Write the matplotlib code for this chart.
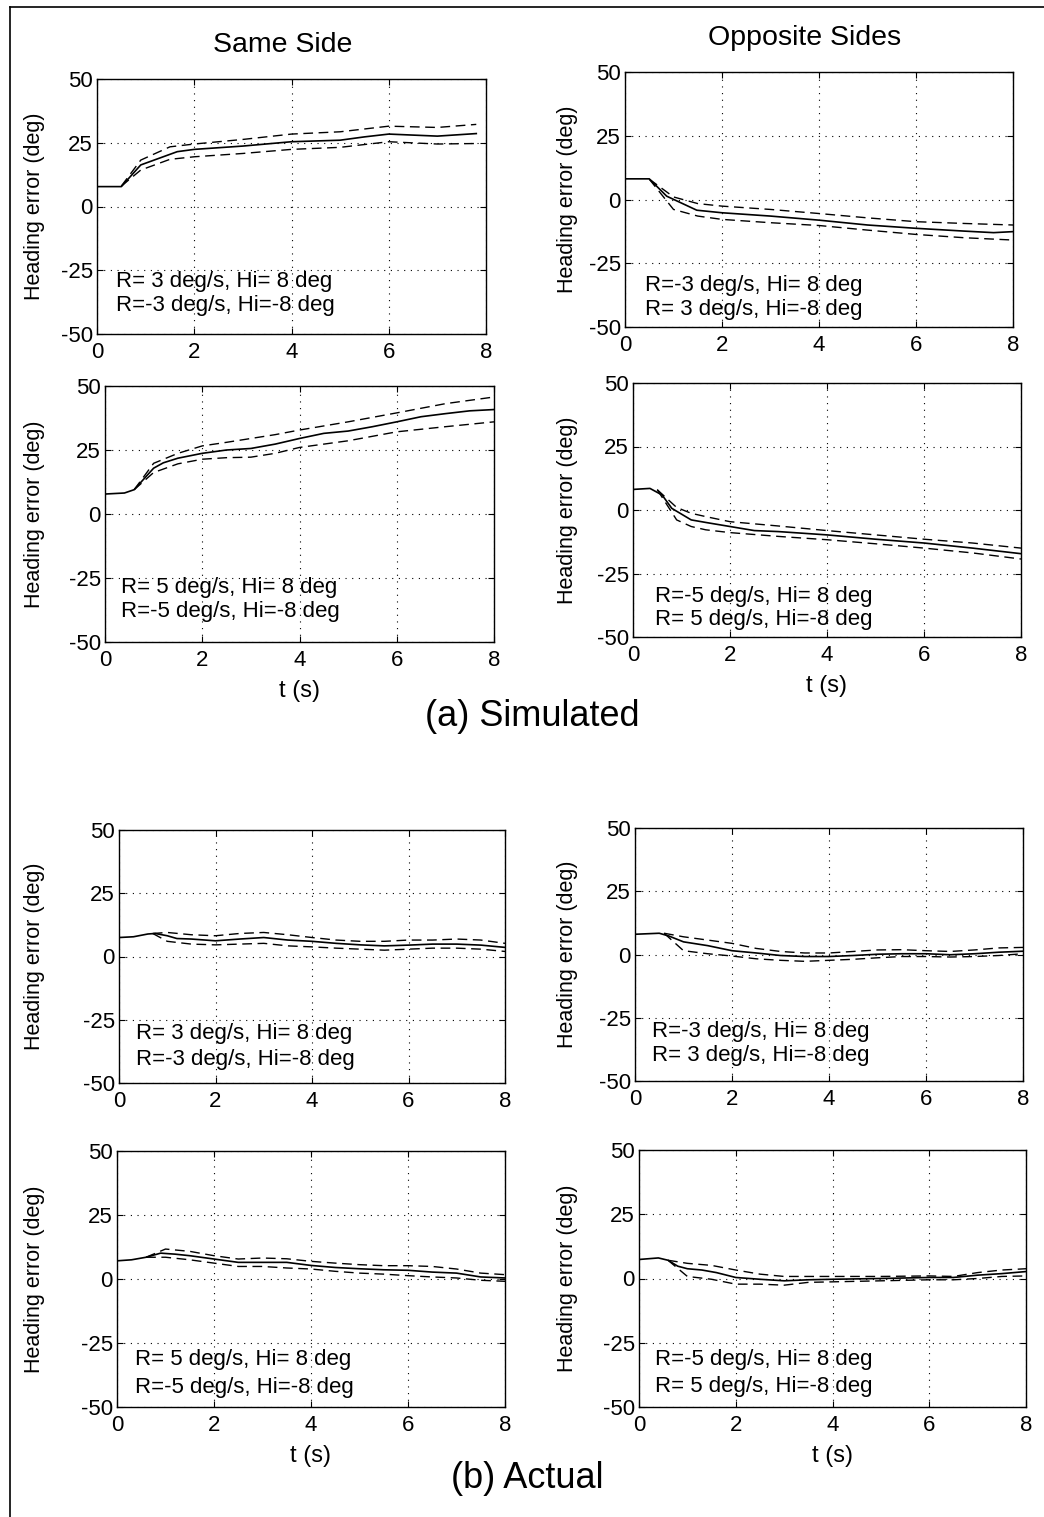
import matplotlib
matplotlib.use("Agg")
import matplotlib.pyplot as plt
from matplotlib.lines import Line2D

plt.rcParams['font.family'] = ['Liberation Sans', 'DejaVu Sans']
plt.rcParams['axes.unicode_minus'] = False

# ---- data (t in s, heading error in deg) ----
# (a) simulated, same side, R=+-3
sim3s_t = [0, 0.5, 0.9, 1.65, 2, 3, 4, 5, 5.5, 6, 6.5, 7, 7.8]
sim3s_mid = [7.8, 7.8, 16.3, 21.5, 22.4, 23.7, 25.4, 26.0, 27.3, 28.4, 28.0, 27.6, 28.6]
sim3s_dt = [0.5, 0.9, 1.5, 2, 3, 4, 5, 6, 7, 7.8]
sim3s_hi = [8.0, 18.2, 23.4, 24.5, 26.3, 28.4, 29.3, 31.5, 31.0, 32.2]
sim3s_lo = [8.0, 14.3, 18.5, 19.5, 20.8, 22.4, 23.2, 25.4, 24.5, 24.7]

# (a) simulated, opposite sides, R=-+3
sim3o_t = [0, 0.5, 0.86, 1.48, 2, 3, 4, 5, 6, 7, 7.6, 8]
sim3o_mid = [8.1, 8.1, 1.3, -4.2, -5.2, -6.5, -8.1, -10.0, -11.3, -12.4, -13.0, -12.6]
sim3o_dt = [0.5, 1, 1.5, 2, 3, 4, 5, 6, 7, 8]
sim3o_hi = [8.0, 1.0, -1.6, -2.6, -3.9, -5.5, -7.2, -8.7, -9.4, -10.0]
sim3o_lo = [8.0, -3.9, -6.5, -7.8, -9.1, -10.2, -12.0, -13.7, -15.0, -15.9]

# (a) simulated, same side, R=+-5
sim5s_t = [0, 0.4, 0.6, 1, 1.2, 1.5, 2, 2.5, 3, 3.5, 4, 4.5, 5, 5.5, 6, 6.5, 7, 7.5, 8]
sim5s_mid = [7.8, 8.2, 9.5, 17.9, 20.0, 21.8, 23.7, 25.0, 25.6, 27.3, 29.5, 31.5, 32.4,
             34.1, 36.0, 38.0, 39.2, 40.3, 40.8]
sim5s_dt = [0.6, 1, 1.5, 2, 2.5, 3, 3.5, 4, 5, 6, 7, 8]
sim5s_hi = [9.5, 19.8, 23.7, 26.6, 28.0, 29.5, 31.0, 32.8, 36.0, 39.5, 43.1, 45.7]
sim5s_lo = [9.5, 16.2, 19.6, 21.4, 22.0, 22.2, 23.7, 26.0, 28.6, 32.1, 34.1, 36.0]

# (a) simulated, opposite sides, R=-+5
sim5o_t = [0, 0.35, 0.6, 0.8, 1.2, 1.5, 2, 2.5, 3, 4, 5, 6, 7, 8]
sim5o_mid = [8.1, 8.5, 5.9, 0.65, -3.9, -4.9, -6.5, -8.1, -8.5, -9.8, -11.5, -13.0, -15.0, -17.2]
sim5o_dt = [0.5, 0.9, 1.2, 1.5, 2, 3, 4, 5, 6, 7, 8]
sim5o_hi = [8.0, 1.0, -1.3, -2.6, -4.6, -6.3, -8.1, -9.8, -11.5, -13.0, -15.0]
sim5o_lo = [8.0, -3.9, -6.5, -7.8, -8.9, -10.4, -11.7, -13.3, -15.0, -16.9, -19.3]

# (b) actual, same side, R=+-3
act3s_t = [0, 0.3, 0.6, 0.75, 1, 1.2, 1.5, 2, 2.5, 3, 3.5, 4, 4.5, 5, 5.5, 6, 6.5, 7, 7.5, 8]
act3s_mid = [7.5, 7.8, 8.9, 9.1, 8.2, 7.1, 6.9, 6.2, 6.9, 7.5, 6.5, 6.0, 5.2, 4.6, 4.2,
             4.5, 4.9, 4.9, 4.5, 3.6]
act3s_dt = [0.7, 1, 1.5, 2, 2.5, 3, 3.5, 4, 4.5, 5, 5.5, 6, 6.5, 7, 7.5, 8]
act3s_hi = [9.1, 9.5, 8.6, 8.2, 9.1, 9.5, 8.6, 7.5, 6.5, 6.0, 6.0, 6.5, 6.5, 6.9, 6.5, 5.2]
act3s_lo = [9.1, 6.0, 4.9, 4.6, 4.9, 5.2, 4.2, 3.8, 3.3, 2.9, 2.5, 2.9, 3.3, 3.3, 2.9, 2.0]

# (b) actual, opposite sides, R=-+3
act3o_t = [0, 0.5, 0.7, 1, 1.5, 2, 2.5, 3, 3.5, 4, 4.5, 5, 5.5, 6, 6.5, 7, 7.5, 8]
act3o_mid = [8.0, 8.4, 7.3, 5.0, 3.5, 1.5, 0.6, -0.4, -0.8, -0.8, -0.4, 0.1, 0.3, 0.3,
             -0.1, 0.3, 0.9, 1.3]
act3o_dt = [0.6, 1, 1.5, 2, 2.5, 3, 3.5, 4, 4.5, 5, 5.5, 6, 6.5, 7, 7.5, 8]
act3o_hi = [8.4, 7.0, 5.7, 4.4, 2.4, 1.2, 0.6, 0.6, 1.2, 1.8, 1.9, 1.5, 1.2, 1.8, 2.6, 2.8]
act3o_lo = [8.4, 1.5, 0.3, -0.6, -1.7, -2.3, -2.7, -2.3, -1.9, -1.3, -0.8, -0.8, -1.0,
            -0.8, -0.4, 0.3]

# (b) actual, same side, R=+-5
act5s_t = [0, 0.3, 0.6, 0.9, 1.2, 1.5, 2, 2.5, 3, 3.5, 4, 4.5, 5, 5.5, 6, 6.5, 7, 7.5, 8]
act5s_mid = [7.1, 7.5, 8.5, 10.1, 9.7, 9.1, 7.8, 6.5, 6.5, 6.5, 5.3, 4.5, 4.0, 3.6, 3.4,
             2.7, 2.3, 0.8, 0.4]
act5s_dt = [0.6, 1, 1.5, 2, 2.5, 3, 3.5, 4, 4.5, 5, 5.5, 6, 6.5, 7, 7.5, 8]
act5s_hi = [8.5, 11.7, 10.8, 9.1, 7.8, 8.2, 7.9, 6.9, 6.2, 5.6, 5.2, 5.2, 4.9, 3.9, 2.3, 1.7]
act5s_lo = [8.5, 8.5, 7.5, 6.2, 4.9, 4.9, 4.3, 3.9, 3.0, 2.3, 1.9, 1.3, 0.8, 0.4, -0.5, -0.9]

# (b) actual, opposite sides, R=-+5
act5o_t = [0, 0.4, 0.6, 0.8, 1, 1.3, 1.6, 2, 2.5, 3, 3.5, 4, 5, 6, 6.5, 7, 7.5, 8]
act5o_mid = [7.4, 8.0, 7.1, 4.8, 3.8, 3.3, 2.3, 0.4, -0.3, -0.9, -0.5, -0.3, 0.0, 0.4,
             0.4, 1.3, 1.9, 2.7]
act5o_dt = [0.6, 1, 1.5, 2, 2.5, 3, 3.5, 4, 5, 6, 6.5, 7, 7.5, 8]
act5o_hi = [7.1, 5.9, 5.1, 3.3, 1.7, 0.8, 0.8, 0.8, 0.8, 1.0, 0.8, 2.3, 3.3, 3.8]
act5o_lo = [7.1, 0.8, -0.3, -2.2, -2.2, -2.6, -1.5, -1.3, -0.9, -0.5, -0.5, 0.0, 0.8, 1.0]

labels_same3 = ["R= 3 deg/s, Hi= 8 deg", "R=-3 deg/s, Hi=-8 deg"]
labels_opp3 = ["R=-3 deg/s, Hi= 8 deg", "R= 3 deg/s, Hi=-8 deg"]
labels_same5 = ["R= 5 deg/s, Hi= 8 deg", "R=-5 deg/s, Hi=-8 deg"]
labels_opp5 = ["R=-5 deg/s, Hi= 8 deg", "R= 5 deg/s, Hi=-8 deg"]

# ---- layout (pixel boxes: left, right, top, bottom) ----
W, H = 1044, 1517
panels = [
    ((97, 486, 79, 334), sim3s_t, sim3s_mid, sim3s_dt, sim3s_hi, sim3s_lo, labels_same3, (0.05, 0.207, 0.11)),
    ((625, 1013, 72, 327), sim3o_t, sim3o_mid, sim3o_dt, sim3o_hi, sim3o_lo, labels_opp3, (0.052, 0.161, 0.068)),
    ((105, 494, 386, 642), sim5s_t, sim5s_mid, sim5s_dt, sim5s_hi, sim5s_lo, labels_same5, (0.04, 0.212, 0.118)),
    ((633, 1021, 383, 637), sim5o_t, sim5o_mid, sim5o_dt, sim5o_hi, sim5o_lo, labels_opp5, (0.056, 0.161, 0.07)),
    ((119, 505, 830, 1083), act3s_t, act3s_mid, act3s_dt, act3s_hi, act3s_lo, labels_same3, (0.043, 0.194, 0.093)),
    ((635, 1023, 828, 1081), act3o_t, act3o_mid, act3o_dt, act3o_hi, act3o_lo, labels_opp3, (0.045, 0.197, 0.1)),
    ((117, 505, 1151, 1407), act5s_t, act5s_mid, act5s_dt, act5s_hi, act5s_lo, labels_same5, (0.046, 0.184, 0.078)),
    ((639, 1026, 1150, 1407), act5o_t, act5o_mid, act5o_dt, act5o_hi, act5o_lo, labels_opp5, (0.041, 0.184, 0.078)),
]

fig = plt.figure(figsize=(W / 100, H / 100), dpi=100)

for i, (box, t, mid, dt, hi, lo, labs, tpos) in enumerate(panels):
    l, r, tp, b = box
    ax = fig.add_axes([l / W, 1 - b / H, (r - l) / W, (b - tp) / H])
    ax.plot(t, mid, color="black", lw=1.2)
    ax.plot(dt, hi, color="black", lw=1.0, dashes=(7, 4))
    ax.plot(dt, lo, color="black", lw=1.0, dashes=(7, 4))
    ax.set_xlim(0, 8)
    ax.set_ylim(-50, 50)
    ax.set_xticks([0, 2, 4, 6, 8])
    ax.set_yticks([-50, -25, 0, 25, 50])
    ax.grid(True, color="black", linestyle=(0, (1, 5)), linewidth=0.8)
    ax.tick_params(direction="in", length=4, labelsize=16, top=True, right=True)
    ax.tick_params(axis="x", pad=6)
    ax.tick_params(axis="y", pad=3)
    for s in ax.spines.values():
        s.set_linewidth(1.0)
    ax.set_ylabel("Heading error (deg)", fontsize=15.5)
    ylab_x = 45 if l < 300 else 578
    ax.yaxis.set_label_coords((ylab_x - l) / (r - l), 0.5)
    ax.text(tpos[0], tpos[1], labs[0], transform=ax.transAxes, fontsize=16,
            va="center", ha="left")
    ax.text(tpos[0], tpos[2], labs[1], transform=ax.transAxes, fontsize=16,
            va="center", ha="left")
    if i in (2, 3, 6, 7):
        ax.set_xlabel("t (s)", fontsize=17, labelpad=6)

fig.text(283 / W, 1 - 45 / H, "Same Side", fontsize=20.5, ha="center", va="center")
fig.text(805 / W, 1 - 38 / H, "Opposite Sides", fontsize=20.5, ha="center", va="center")
fig.text(532 / W, 1 - 717 / H, "(a) Simulated", fontsize=26, ha="center", va="center")
fig.text(527 / W, 1 - 1478 / H, "(b) Actual", fontsize=26, ha="center", va="center")

# outer frame
fig.add_artist(Line2D([10 / W, 10 / W], [0, 1 - 7 / H], color="black", lw=1.2,
                     transform=fig.transFigure))
fig.add_artist(Line2D([10 / W, 1], [1 - 7 / H, 1 - 7 / H], color="black", lw=1.2,
                     transform=fig.transFigure))

fig.savefig("out.png", dpi=100)
